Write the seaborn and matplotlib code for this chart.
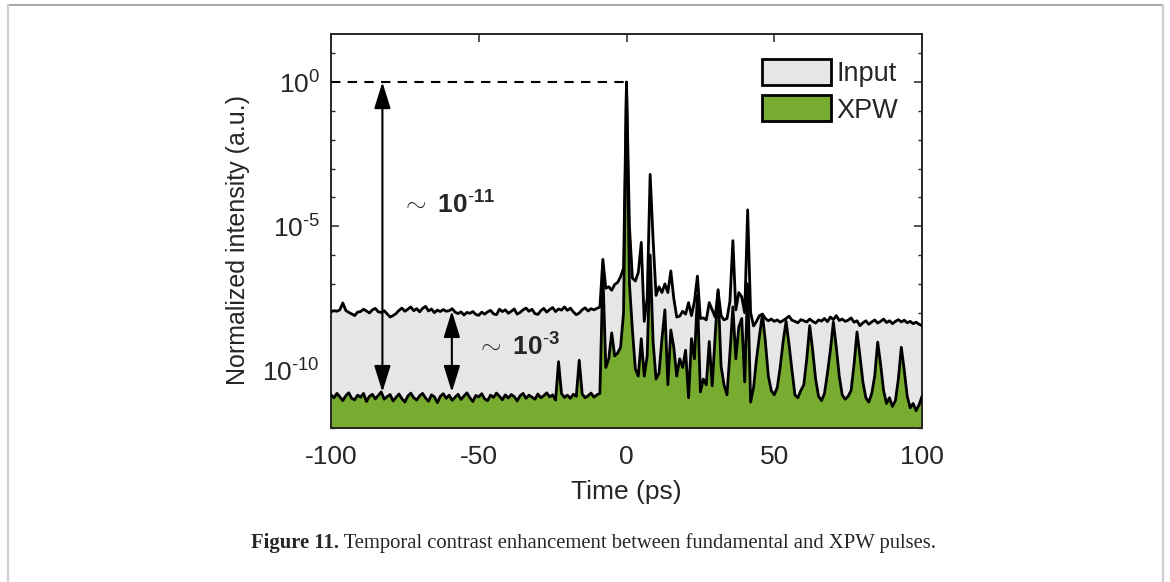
import numpy as np
import pandas as pd
import matplotlib
matplotlib.use("Agg")
import matplotlib.pyplot as plt
import seaborn as sns
from matplotlib.patches import Patch
from matplotlib.lines import Line2D
from matplotlib.ticker import FixedLocator, NullFormatter

# ---------------- data ----------------
time_ps = np.arange(-100, 101)  # 1 ps sampling grid

# log10 of normalized intensity, t = -100 ... 100 ps
input_log10 = [
    -7.97, -7.93, -7.95, -7.90, -7.66, -7.92, -7.99, -8.04, -8.10, -7.98,
    -7.96, -7.88, -7.94, -8.01, -7.90, -7.85, -7.97, -7.99, -7.93, -8.04,
    -8.15, -8.10, -8.03, -7.92, -7.84, -7.95, -7.88, -7.80, -7.93, -7.86,
    -7.97, -7.85, -7.78, -7.94, -7.87, -8.00, -7.91, -7.96, -7.89, -7.95,
    -7.93, -7.86, -7.98, -8.03, -7.97, -8.08, -7.99, -8.02, -7.96, -8.06,
    -8.09, -7.98, -8.05, -7.97, -7.92, -8.04, -8.07, -7.88, -7.96, -7.90,
    -8.02, -7.95, -7.87, -8.05, -7.99, -7.90, -7.84, -7.95, -7.88, -8.03,
    -8.06, -7.93, -7.85, -7.98, -7.89, -7.82, -7.96, -7.87, -7.91, -7.80,
    -7.92, -7.84, -7.97, -8.07, -8.01, -7.90, -7.83, -7.94, -7.86, -7.90,
    -7.85, -7.80, -6.15, -7.15, -7.10, -7.22, -7.02, -6.95, -6.75, -6.45,
    0.00,
    -5.00, -6.80, -6.90, -6.60, -5.56, -8.30, -7.50, -3.20, -5.45, -7.40,
    -7.10, -7.30, -7.00, -7.30, -6.55, -7.50, -8.15, -8.12, -7.95, -8.05,
    -7.65, -8.10, -7.60, -6.73, -8.20, -8.18, -8.25, -7.65, -7.90, -8.15,
    -7.25, -8.10, -8.25, -8.20, -7.60, -5.50, -7.90, -7.30, -7.45, -8.00,
    -4.43, -8.00, -8.46, -8.30, -8.10, -8.05, -8.20, -8.28, -8.22, -8.30,
    -8.25, -8.33, -8.27, -8.20, -8.12, -8.26, -8.30, -8.35, -8.24, -8.28,
    -8.32, -8.22, -8.30, -8.36, -8.25, -8.29, -8.20, -8.31, -8.15, -8.24,
    -8.10, -8.27, -8.22, -8.30, -8.26, -8.18, -8.33, -8.28, -8.45, -8.35,
    -8.28, -8.40, -8.32, -8.25, -8.36, -8.30, -8.22, -8.34, -8.28, -8.38,
    -8.30, -8.24, -8.32, -8.26, -8.35, -8.30, -8.38, -8.33, -8.40, -8.45,
]

xpw_log10 = [
    -10.85, -10.95, -10.80, -10.92, -11.05, -10.88, -10.78, -10.97, -11.02, -10.86,
    -10.93, -10.80, -11.08, -10.90, -10.83, -10.99, -10.87, -10.75, -11.00, -10.91,
    -10.84, -11.06, -10.94, -10.82, -10.98, -11.10, -10.89, -10.79, -10.95, -11.03,
    -10.88, -10.80, -10.96, -11.07, -10.85, -10.92, -11.12, -10.90, -10.81, -10.97,
    -10.86, -11.04, -10.93, -10.83, -11.01, -10.89, -10.78, -10.95, -11.08, -10.87,
    -10.92, -10.81, -10.99, -11.05, -10.86, -10.94, -10.79, -10.90, -11.02, -10.85,
    -10.96, -10.84, -10.91, -11.06, -10.88, -10.80, -10.97, -10.86, -10.93, -11.00,
    -10.82, -10.95, -10.88, -10.78, -10.92, -10.85, -11.03, -9.70, -10.80, -10.94,
    -10.86, -10.97, -10.83, -10.90, -9.65, -10.82, -10.95, -10.88, -10.79, -10.93,
    -10.85, -10.80, -6.60, -9.90, -9.60, -8.70, -9.50, -9.40, -9.20, -8.00,
    0.00,
    -7.00, -8.60, -9.95, -10.20, -8.90, -10.20, -9.50, -6.00, -9.00, -10.30,
    -10.10, -8.90, -7.90, -10.50, -8.60, -9.20, -10.20, -9.60, -9.90, -9.30,
    -10.95, -8.90, -9.60, -7.40, -10.75, -10.30, -10.50, -9.00, -10.54, -8.80,
    -7.20, -9.85, -10.50, -10.85, -9.40, -7.80, -9.60, -8.50, -8.20, -10.40,
    -7.00, -11.10, -10.60, -9.60, -8.80, -8.05, -9.00, -10.20, -10.70, -10.85,
    -10.60, -9.90, -9.00, -8.30, -9.10, -10.00, -10.85, -10.95, -10.70, -10.50,
    -9.60, -8.45, -9.30, -10.30, -10.90, -11.05, -10.80, -10.10, -9.30, -8.33,
    -9.20, -10.20, -10.85, -11.00, -10.90, -10.70, -9.80, -8.67, -9.50, -10.40,
    -10.95, -11.10, -10.80, -10.20, -9.02, -9.80, -10.70, -11.15, -10.95, -11.25,
    -11.05, -10.30, -9.20, -10.00, -10.90, -11.30, -11.15, -11.40, -11.20, -10.90,
]

series_labels = ["Input", "XPW"]
x_ticks = [-100, -50, 0, 50, 100]
y_tick_exponents = [-10, -5, 0]
y_minor_exponents = list(range(-12, 2))
contrast_big_exp = "-11"
contrast_small_exp = "-3"
# arrow positions (time, log10 ends) and label anchors
arrow1_t, arrow1_top, arrow1_bottom = -82.6, 0.0, -10.75
arrow2_t, arrow2_top, arrow2_bottom = -59.1, -7.94, -10.75
label1_t, label1_log = -76.3, -4.25
label2_t, label2_log = -50.8, -9.2

df = pd.DataFrame({
    "t": time_ps,
    "Input": 10.0 ** np.array(input_log10),
    "XPW": 10.0 ** np.array(xpw_log10),
})

# ---------------- style ----------------
sns.set_theme(style="ticks")
plt.rcParams["font.family"] = ["Liberation Sans", "DejaVu Sans"]
plt.rcParams["mathtext.fontset"] = "custom"
plt.rcParams["mathtext.rm"] = "Liberation Sans"
plt.rcParams["mathtext.it"] = "Liberation Sans:italic"
plt.rcParams["mathtext.bf"] = "Liberation Sans:bold"
plt.rcParams["axes.unicode_minus"] = False

gray_fill = "#e6e6e6"
green_fill = "#77ac30"
axis_col = "#262626"
tick_fs = 19

fig = plt.figure(figsize=(11.7, 5.82), dpi=100)
ax = fig.add_axes([331 / 1170, 1 - 428 / 582, (922 - 331) / 1170, (428 - 34) / 582])

ymin = 1e-12
ax.fill_between(df["t"], ymin, df["Input"], color=gray_fill, lw=0, zorder=1)
ax.fill_between(df["t"], ymin, df["XPW"], color=green_fill, lw=0, zorder=2)
sns.lineplot(data=df, x="t", y="Input", ax=ax, color="black", lw=2.0,
             estimator=None, sort=False, zorder=3)
sns.lineplot(data=df, x="t", y="XPW", ax=ax, color="black", lw=2.0,
             estimator=None, sort=False, zorder=4)

ax.set_yscale("log")
ax.set_xlim(-100, 100)
ax.set_ylim(ymin, 10 ** 1.67)

# dashed reference line at the peak
ax.plot([-100, 0], [1, 1], ls=(0, (4.5, 3.5)), color="black", lw=1.5, zorder=5)

# arrows
arrow_kw = dict(arrowstyle="<|-|>,head_length=0.9,head_width=0.28",
                color="black", lw=1.5, shrinkA=0, shrinkB=0, mutation_scale=18)
ax.annotate("", xy=(arrow1_t, 10 ** arrow1_top), xytext=(arrow1_t, 10 ** arrow1_bottom),
            arrowprops=arrow_kw, zorder=6)
ax.annotate("", xy=(arrow2_t, 10 ** arrow2_top), xytext=(arrow2_t, 10 ** arrow2_bottom),
            arrowprops=arrow_kw, zorder=6)
ax.text(label1_t, 10 ** label1_log, r"$\sim$ $\mathbf{10^{\text{-}%s}}$" % contrast_big_exp[1:],
        fontsize=19, ha="left", va="center", zorder=7)
ax.text(label2_t, 10 ** label2_log, r"$\sim$ $\mathbf{10^{\text{-}%s}}$" % contrast_small_exp[1:],
        fontsize=19, ha="left", va="center", zorder=7)

# ticks
ax.set_xticks(x_ticks)
ax.set_xticklabels([str(v) for v in x_ticks])
ax.yaxis.set_major_locator(FixedLocator([10.0 ** e for e in y_tick_exponents]))
ax.set_yticklabels([r"$10^{\text{-}%d}$" % (-e) if e < 0 else r"$10^{%d}$" % e
                    for e in y_tick_exponents])
ax.yaxis.set_minor_locator(FixedLocator([10.0 ** e for e in y_minor_exponents]))
ax.yaxis.set_minor_formatter(NullFormatter())
ax.tick_params(which="major", direction="in", length=5.5, width=1.1,
               top=True, right=True, labelsize=tick_fs, colors=axis_col)
ax.tick_params(axis="x", which="major", pad=12)
ax.tick_params(axis="y", which="major", pad=8)
ax.tick_params(which="minor", direction="in", length=3, width=1.0,
               top=False, right=True, left=True, colors=axis_col)
ax.xaxis.set_minor_locator(FixedLocator([]))
for s in ax.spines.values():
    s.set_visible(True)
    s.set_linewidth(1.4)
    s.set_color(axis_col)

ax.set_xlabel("Time (ps)", fontsize=tick_fs, color=axis_col, labelpad=8)
ax.set_ylabel("Normalized intensity (a.u.)", fontsize=18, color=axis_col)
ax.yaxis.set_label_coords((250 - 331) / 591, (428 - 240) / 394)

handles = [Patch(facecolor=gray_fill, edgecolor="black", lw=2.0, label=series_labels[0]),
           Patch(facecolor=green_fill, edgecolor="black", lw=2.0, label=series_labels[1])]
ax.legend(handles=handles, loc="upper left", frameon=False, fontsize=19.5,
          handlelength=2.55, handleheight=1.1, handletextpad=0.2, labelspacing=0.3,
          borderpad=0, borderaxespad=0, bbox_to_anchor=((762 - 331) / 591, (428 - 59) / 394))

# outer light frame (as in the journal page)
fig.add_artist(Line2D([8 / 1170, 1163 / 1170], [1 - 4.5 / 582, 1 - 4.5 / 582],
                      transform=fig.transFigure, color="#a0a0a0", lw=1.3))
fig.add_artist(Line2D([8 / 1170, 8 / 1170], [0, 1 - 4.5 / 582],
                      transform=fig.transFigure, color="#cfcfcf", lw=1.6))
fig.add_artist(Line2D([1163 / 1170, 1163 / 1170], [0, 1 - 4.5 / 582],
                      transform=fig.transFigure, color="#cfcfcf", lw=1.6))

# caption
cap_y = 1 - 543 / 582
cap_bold = "Figure 11."
cap_rest = " Temporal contrast enhancement between fundamental and XPW pulses."
cap_fs = 14.9
renderer = fig.canvas.get_renderer()
tb = fig.text(0, cap_y, cap_bold, fontsize=cap_fs, family="Liberation Serif",
              weight="bold", ha="left", va="center")
tr = fig.text(0, cap_y, cap_rest, fontsize=cap_fs, family="Liberation Serif",
              ha="left", va="center")
wb = tb.get_window_extent(renderer).width
wr = tr.get_window_extent(renderer).width
x0 = (593.5 - (wb + wr) / 2) / 1170
tb.set_x(x0)
tr.set_x(x0 + wb / 1170)

fig.savefig("out.png", dpi=100)
